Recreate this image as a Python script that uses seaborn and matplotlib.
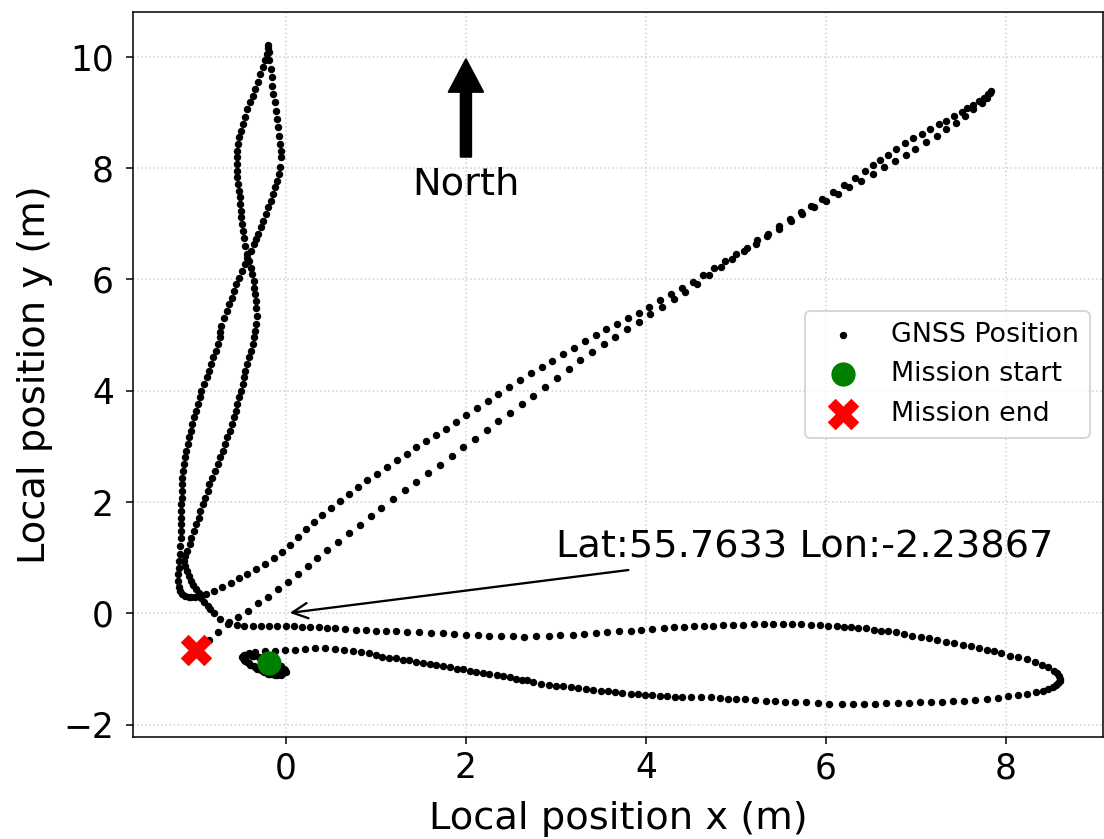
import matplotlib
matplotlib.use("Agg")
import matplotlib.pyplot as plt
import numpy as np
import pandas as pd
import seaborn as sns

# ---------------- data ----------------
# tight loop around the start position
start_loop_x = [-0.19,-0.12,-0.06,-0.02,-0.04,-0.10,-0.18,-0.26,-0.34,-0.41,-0.47,-0.48,-0.43,-0.35,-0.27,
                -0.19,-0.11,-0.05,-0.01,-0.03,-0.09,-0.16,-0.24,-0.32,-0.40,-0.46,-0.49,-0.45,-0.38,-0.30,
                -0.22,-0.14,-0.07,-0.02,0.00,-0.05,-0.12,-0.20,-0.28,-0.36,-0.43,-0.48,-0.47,-0.41,-0.34]
start_loop_y = [-0.89,-0.93,-0.98,-1.04,-1.08,-1.10,-1.08,-1.03,-0.97,-0.90,-0.83,-0.77,-0.75,-0.77,-0.81,
                -0.85,-0.90,-0.95,-1.01,-1.06,-1.09,-1.09,-1.05,-1.00,-0.93,-0.86,-0.79,-0.75,-0.76,-0.79,
                -0.84,-0.89,-0.94,-1.00,-1.05,-1.10,-1.11,-1.08,-1.02,-0.95,-0.88,-0.80,-0.74,-0.71,-0.69]

# outbound lower arc of the eastern loop
outbound_x = [-0.23,-0.12,-0.01,0.10,0.21,0.32,0.43,0.54,0.65,0.74,0.83,0.92,1.00,1.07,1.15,1.22,1.30,1.37,1.45,1.52,
              1.60,1.67,1.75,1.82,1.90,1.97,2.04,2.11,2.19,2.26,2.34,2.41,2.49,2.56,2.62,2.68,2.75,2.83,2.92,3.00,
              3.08,3.17,3.25,3.33,3.41,3.50,3.58,3.66,3.74,3.83,3.91,3.99,4.07,4.16,4.24,4.32,4.40,4.50,4.61,4.72,
              4.82,4.91,5.00,5.10,5.21,5.33,5.44,5.55,5.66,5.78,5.91,6.04,6.18,6.30,6.42,6.55,6.67,6.80,6.92,7.05,
              7.17,7.29,7.41,7.54,7.66,7.79,7.91,8.02,8.14,8.24,8.34,8.41,8.47,8.52,8.56,8.58,8.60,8.60]
outbound_y = [-0.68,-0.67,-0.66,-0.65,-0.64,-0.63,-0.63,-0.64,-0.65,-0.67,-0.69,-0.72,-0.75,-0.78,-0.80,-0.81,-0.83,-0.84,-0.87,-0.89,
              -0.91,-0.93,-0.95,-0.97,-0.99,-1.00,-1.03,-1.06,-1.07,-1.09,-1.11,-1.13,-1.15,-1.17,-1.19,-1.20,-1.23,-1.26,-1.28,-1.30,
              -1.31,-1.33,-1.34,-1.36,-1.37,-1.39,-1.40,-1.42,-1.43,-1.44,-1.44,-1.46,-1.47,-1.48,-1.49,-1.50,-1.50,-1.50,-1.50,-1.51,
              -1.52,-1.53,-1.54,-1.54,-1.55,-1.57,-1.58,-1.59,-1.60,-1.60,-1.61,-1.62,-1.62,-1.62,-1.62,-1.62,-1.61,-1.61,-1.61,-1.60,
              -1.59,-1.59,-1.58,-1.57,-1.55,-1.54,-1.52,-1.49,-1.47,-1.44,-1.41,-1.39,-1.36,-1.32,-1.28,-1.25,-1.21,-1.18]

# return upper arc of the eastern loop
return_x = [8.59,8.57,8.53,8.47,8.40,8.32,8.24,8.14,8.05,7.95,7.87,7.79,7.70,7.61,7.52,7.42,7.33,7.24,7.15,7.06,
            6.96,6.87,6.78,6.69,6.61,6.53,6.45,6.36,6.28,6.20,6.12,6.02,5.93,5.83,5.72,5.62,5.52,5.41,5.31,5.20,
            5.08,4.97,4.86,4.75,4.65,4.54,4.42,4.31,4.20,4.07,3.95,3.83,3.70,3.57,3.44,3.31,3.19,3.05,2.92,2.78,
            2.65,2.52,2.39,2.26,2.13,2.00,1.87,1.74,1.61,1.48,1.35,1.22,1.11,1.00,0.89,0.78,0.66,0.55,0.46,0.37,
            0.27,0.18,0.09,0.00,-0.10,-0.19,-0.28,-0.37,-0.47]
return_y = [-1.12,-1.07,-1.03,-0.97,-0.92,-0.87,-0.82,-0.79,-0.76,-0.71,-0.68,-0.65,-0.62,-0.59,-0.56,-0.53,-0.51,-0.48,-0.45,-0.42,
            -0.40,-0.37,-0.34,-0.32,-0.31,-0.29,-0.27,-0.26,-0.25,-0.24,-0.23,-0.22,-0.21,-0.20,-0.19,-0.19,-0.19,-0.19,-0.19,-0.19,
            -0.20,-0.20,-0.21,-0.22,-0.23,-0.23,-0.24,-0.25,-0.27,-0.28,-0.30,-0.31,-0.32,-0.34,-0.36,-0.37,-0.38,-0.39,-0.41,-0.41,
            -0.42,-0.41,-0.40,-0.40,-0.39,-0.38,-0.37,-0.36,-0.35,-0.34,-0.33,-0.32,-0.31,-0.31,-0.30,-0.29,-0.28,-0.27,-0.26,-0.25,
            -0.25,-0.24,-0.23,-0.23,-0.22,-0.22,-0.22,-0.22,-0.22]

# northern loop: inner branch going up
north_up = [(-0.54,-0.20),(-0.63,-0.16),(-0.73,-0.10),(-0.80,0.00),(-0.84,0.07),(-0.87,0.13),(-0.91,0.21),(-0.94,0.28),
            (-0.97,0.36),(-1.00,0.43),(-1.03,0.51),(-1.05,0.58),(-1.08,0.67),(-1.10,0.76),(-1.12,0.85),(-1.13,0.94),
            (-1.12,1.03),(-1.10,1.12),(-1.07,1.24),(-1.05,1.36),(-1.02,1.48),(-1.00,1.60),(-0.97,1.72),(-0.95,1.84),
            (-0.92,1.96),(-0.90,2.08),(-0.87,2.20),(-0.85,2.32),(-0.82,2.44),(-0.79,2.56),(-0.76,2.68),(-0.73,2.80),
            (-0.70,2.92),(-0.68,3.04),(-0.65,3.16),(-0.62,3.28),(-0.60,3.40),(-0.58,3.52),(-0.56,3.64),(-0.54,3.76),
            (-0.52,3.88),(-0.50,4.00),(-0.48,4.12),(-0.47,4.24),(-0.45,4.36),(-0.43,4.48),(-0.41,4.60),(-0.39,4.72),
            (-0.37,4.84),(-0.36,4.96),(-0.34,5.08),(-0.33,5.20),(-0.32,5.34),(-0.33,5.49),(-0.33,5.61),(-0.34,5.73),
            (-0.35,5.85),(-0.36,5.97),(-0.38,6.09),(-0.39,6.21),(-0.41,6.33),(-0.43,6.45),(-0.45,6.60),(-0.47,6.75),
            (-0.48,6.87),(-0.49,6.99),(-0.50,7.11),(-0.50,7.23),(-0.51,7.35),(-0.51,7.47),(-0.52,7.59),(-0.53,7.71),
            (-0.54,7.83),(-0.54,7.95),(-0.54,8.07),(-0.54,8.19),(-0.54,8.31),(-0.53,8.43),(-0.52,8.55),(-0.50,8.67),
            (-0.48,8.79),(-0.46,8.91),(-0.43,9.05),(-0.40,9.18),(-0.37,9.30),(-0.34,9.42),(-0.31,9.55),(-0.29,9.69),
            (-0.26,9.81),(-0.23,9.93),(-0.21,10.05),(-0.20,10.15),(-0.20,10.20)]

# northern loop: right branch down, outer branch and hook
north_down = [(-0.19,10.08),(-0.19,9.93),(-0.17,9.78),(-0.16,9.63),(-0.15,9.48),(-0.14,9.33),(-0.12,9.18),(-0.11,9.03),
              (-0.10,8.88),(-0.09,8.73),(-0.08,8.58),(-0.07,8.43),(-0.06,8.31),(-0.06,8.19),(-0.07,8.01),(-0.08,7.89),
              (-0.10,7.77),(-0.12,7.65),(-0.14,7.53),(-0.17,7.41),(-0.20,7.29),(-0.22,7.17),(-0.25,7.05),(-0.28,6.93),
              (-0.31,6.81),(-0.33,6.72),(-0.36,6.63),(-0.39,6.51),(-0.43,6.39),(-0.46,6.27),(-0.49,6.15),(-0.52,6.03),
              (-0.55,5.91),(-0.58,5.79),(-0.60,5.67),(-0.63,5.55),(-0.66,5.43),(-0.69,5.30),(-0.72,5.16),(-0.73,5.06),
              (-0.73,4.96),(-0.76,4.84),(-0.78,4.72),(-0.81,4.60),(-0.83,4.48),(-0.86,4.36),(-0.88,4.24),(-0.91,4.12),
              (-0.94,4.00),(-0.96,3.88),(-0.98,3.76),(-1.00,3.64),(-1.02,3.52),(-1.04,3.40),(-1.06,3.28),(-1.08,3.16),
              (-1.09,3.04),(-1.11,2.92),(-1.12,2.80),(-1.13,2.68),(-1.14,2.56),(-1.15,2.44),(-1.15,2.32),(-1.16,2.20),
              (-1.16,2.08),(-1.17,1.96),(-1.17,1.84),(-1.17,1.72),(-1.17,1.60),(-1.17,1.48),(-1.17,1.36),(-1.18,1.21),
              (-1.18,1.06),(-1.19,0.94),(-1.19,0.82),(-1.20,0.70),(-1.20,0.58),(-1.19,0.48),(-1.18,0.40),(-1.15,0.34),
              (-1.12,0.31),(-1.08,0.30),(-1.05,0.30),(-1.01,0.30),(-0.98,0.31),(-0.94,0.33),(-0.89,0.35)]

# diagonal leg out to the north-east
diag_out = [(-0.80,0.40),(-0.71,0.48),(-0.61,0.55),(-0.52,0.63),(-0.43,0.70),(-0.33,0.79),(-0.23,0.89),(-0.13,1.00),
            (-0.04,1.11),(0.05,1.23),(0.13,1.38),(0.22,1.51),(0.31,1.64),(0.40,1.76),(0.50,1.89),(0.60,2.02),
            (0.70,2.14),(0.80,2.27),(0.90,2.39),(1.01,2.51),(1.12,2.63),(1.23,2.75),(1.34,2.86),(1.45,2.98),
            (1.56,3.09),(1.67,3.21),(1.78,3.32),(1.89,3.44),(2.00,3.56),(2.12,3.69),(2.24,3.82),(2.36,3.94),
            (2.48,4.07),(2.60,4.19),(2.72,4.31),(2.84,4.43),(2.96,4.54),(3.08,4.66),(3.20,4.77),(3.32,4.89),
            (3.44,5.00),(3.56,5.10),(3.68,5.20),(3.80,5.30),(3.92,5.40),(4.04,5.50),(4.16,5.62),(4.28,5.73),
            (4.40,5.85),(4.52,5.96),(4.64,6.08),(4.76,6.20),(4.88,6.32),(5.00,6.45),(5.12,6.57),(5.24,6.70),
            (5.36,6.82),(5.48,6.95),(5.60,7.08),(5.72,7.20),(5.84,7.32),(5.96,7.44),(6.08,7.56),(6.20,7.69),
            (6.32,7.82),(6.43,7.94),(6.52,8.05),(6.60,8.15),(6.69,8.24),(6.78,8.34),(6.88,8.44),(6.97,8.53),
            (7.07,8.61),(7.16,8.70),(7.26,8.79),(7.34,8.85),(7.42,8.93),(7.51,9.00),(7.57,9.07),(7.64,9.13),
            (7.70,9.20),(7.76,9.26),(7.80,9.32),(7.84,9.38)]

# diagonal leg back to the end position
diag_back = [(7.82,9.34),(7.79,9.26),(7.73,9.17),(7.64,9.06),(7.55,8.94),(7.45,8.81),(7.34,8.69),(7.23,8.58),
             (7.11,8.46),(6.99,8.34),(6.89,8.23),(6.77,8.13),(6.65,8.01),(6.52,7.89),(6.39,7.77),(6.26,7.65),
             (6.13,7.53),(6.00,7.41),(5.87,7.30),(5.74,7.18),(5.61,7.04),(5.48,6.90),(5.35,6.77),(5.22,6.63),
             (5.09,6.50),(4.96,6.36),(4.83,6.22),(4.70,6.07),(4.57,5.92),(4.44,5.78),(4.31,5.64),(4.18,5.50),
             (4.05,5.37),(3.92,5.23),(3.79,5.10),(3.66,4.97),(3.53,4.84),(3.40,4.70),(3.27,4.55),(3.14,4.39),
             (3.01,4.23),(2.88,4.07),(2.75,3.91),(2.62,3.76),(2.49,3.60),(2.36,3.45),(2.23,3.29),(2.10,3.14),
             (1.97,2.98),(1.84,2.83),(1.71,2.67),(1.58,2.52),(1.45,2.36),(1.32,2.21),(1.19,2.05),(1.06,1.90),
             (0.94,1.75),(0.82,1.59),(0.70,1.44),(0.58,1.29),(0.46,1.13),(0.35,0.99),(0.24,0.85),(0.13,0.71),
             (0.02,0.56),(-0.09,0.43),(-0.20,0.30),(-0.31,0.18),(-0.42,0.05),(-0.53,-0.07),(-0.64,-0.19),
             (-0.75,-0.33),(-0.86,-0.48),(-1.00,-0.65)]

x_ticks = [0, 2, 4, 6, 8]
y_ticks = [-2, 0, 2, 4, 6, 8, 10]
latlon_text = "Lat:55.7633 Lon:-2.23867"

# ---------------- assemble path ----------------
xs = list(start_loop_x) + list(outbound_x) + list(return_x)
ys = list(start_loop_y) + list(outbound_y) + list(return_y)
for seg in (north_up, north_down, diag_out, diag_back):
    xs += [p[0] for p in seg]
    ys += [p[1] for p in seg]
df = pd.DataFrame({"x": xs, "y": ys})
start_df = df.iloc[[0]]
end_df = df.iloc[[-1]]

# ---------------- figure ----------------
DPI = 138
fig = plt.figure(figsize=(1104 / DPI, 839 / DPI), dpi=DPI)
ax = fig.add_axes([133 / 1104, 1 - 737 / 839, (1103 - 133) / 1104, (737 - 12) / 839])

sns.scatterplot(data=df, x="x", y="y", color="black", s=15, linewidth=0,
                label="GNSS Position", ax=ax, zorder=2, legend=False)
sns.scatterplot(data=start_df, x="x", y="y", color="green", marker="o", s=160,
                linewidth=0, label="Mission start", ax=ax, zorder=3, legend=False)
sns.scatterplot(data=end_df, x="x", y="y", color="red", marker="X", s=270,
                linewidth=0, label="Mission end", ax=ax, zorder=3, legend=False)

ax.set_xlim(-1.70, 9.08)
ax.set_ylim(-2.22, 10.80)
ax.set_xticks(x_ticks)
ax.set_yticks(y_ticks)
ax.tick_params(labelsize=18)
ax.tick_params(axis="y", pad=6.5)
ax.tick_params(axis="x", pad=4)
ax.grid(True, linestyle=":", color="#cfcfcf", linewidth=0.8)
ax.set_axisbelow(True)
ax.set_xlabel("Local position x (m)", fontsize=20, labelpad=8)
ax.set_ylabel("Local position y (m)", fontsize=20, labelpad=5)

# North arrow
ax.annotate("", xy=(2, 9.95), xytext=(2, 8.2),
            arrowprops=dict(facecolor="black", edgecolor="black", width=5.5,
                            headwidth=18, headlength=17, shrink=0))
ax.text(2, 7.7, "North", ha="center", va="center", fontsize=20)

# origin annotation
ax.annotate(latlon_text, xy=(0, 0), xytext=(3.0, 1.0), fontsize=20,
            arrowprops=dict(arrowstyle="->", color="black", lw=1.2))

ax.legend(loc="center right", fontsize=14)

fig.savefig("out.png", dpi=DPI)
